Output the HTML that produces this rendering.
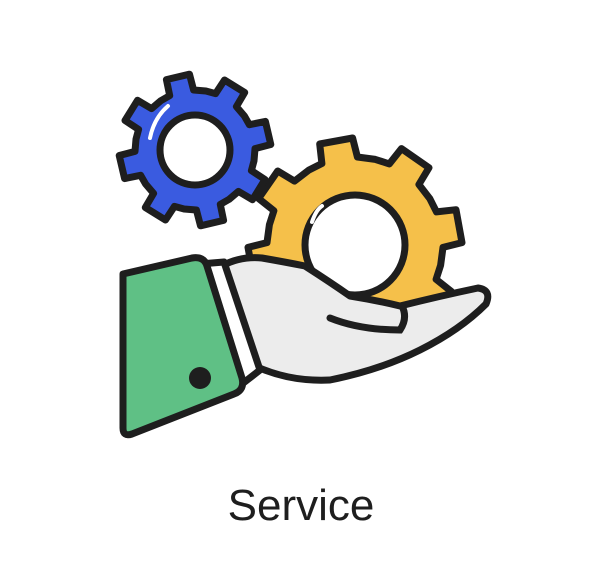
<!DOCTYPE html>
<html><head><meta charset="utf-8"><style>
html,body{margin:0;padding:0;background:#fff;width:602px;height:588px;overflow:hidden}
</style></head><body>
<svg id="s" width="602" height="588" viewBox="0 0 602 588" xmlns="http://www.w3.org/2000/svg">
<g id="yg"></g>
<circle cx="355" cy="245" r="50" fill="#fff" stroke="#1e1e1e" stroke-width="7"/>
<path d="M312,222 Q316,210 322,206" fill="none" stroke="#fff" stroke-width="4" stroke-linecap="round"/>
<g id="bg"></g>
<circle cx="195" cy="150" r="35" fill="#fff" stroke="#1e1e1e" stroke-width="7"/>
<path d="M150,138 Q154,118 168,106" fill="none" stroke="#fff" stroke-width="4" stroke-linecap="round"/>
<path d="M222,266 Q240,256 262,258 Q285,262 305,266 Q330,282 350,296 Q375,300 400,306 Q440,296 478,288 Q492,290 486,304 Q460,330 420,350 Q380,370 330,380 Q290,382 255,366 Z" fill="#ececec" stroke="#1e1e1e" stroke-width="7" stroke-linejoin="round"/>
<path d="M330,318 Q360,330 400,330 Q408,318 402,306" fill="none" stroke="#1e1e1e" stroke-width="7" stroke-linecap="round"/>
<path d="M200,264 L224,262 L260,370 L242,384 Z" fill="#fff" stroke="#1e1e1e" stroke-width="7" stroke-linejoin="round"/>
<path d="M123,274 L192,258 Q204,256 207,266 L242,378 Q245,390 234,394 L132,434 Q123,437 123,428 Z" fill="#5fc085" stroke="#1e1e1e" stroke-width="7" stroke-linejoin="round"/>
<circle cx="200" cy="378" r="11" fill="#1e1e1e"/>
<text x="301" y="520" text-anchor="middle" font-family="Liberation Sans, sans-serif" font-size="44" fill="#1e1e1e">Service</text>
</svg>
<script>
function gear(cx,cy,rb,rt,n,rot,fill){
 var d='',tw=0.5*Math.PI*2/n/2, pts=[];
 for(var i=0;i<n;i++){
  var a=rot+i*2*Math.PI/n, step=Math.PI/n;
  var a1=a-step*0.95,a2=a-tw*1.05,a3=a-tw*0.8,a4=a+tw*0.8,a5=a+tw*1.05;
  pts.push([a1,rb],[a2,rb],[a3,rt],[a4,rt],[a5,rb]);
 }
 pts.forEach(function(p,i){d+=(i?'L':'M')+(cx+p[1]*Math.cos(p[0])).toFixed(1)+','+(cy+p[1]*Math.sin(p[0])).toFixed(1);});
 d+='Z';
 return '<path d="'+d+'" fill="'+fill+'" stroke="#1e1e1e" stroke-width="7" stroke-linejoin="round"/>';
}
document.getElementById('yg').innerHTML=gear(355,245,88,107,8,-1.75,'#f5c04a');
document.getElementById('bg').innerHTML=gear(195,150,60,76,8,-1.8,'#3a5be0');
</script>
</body></html>
